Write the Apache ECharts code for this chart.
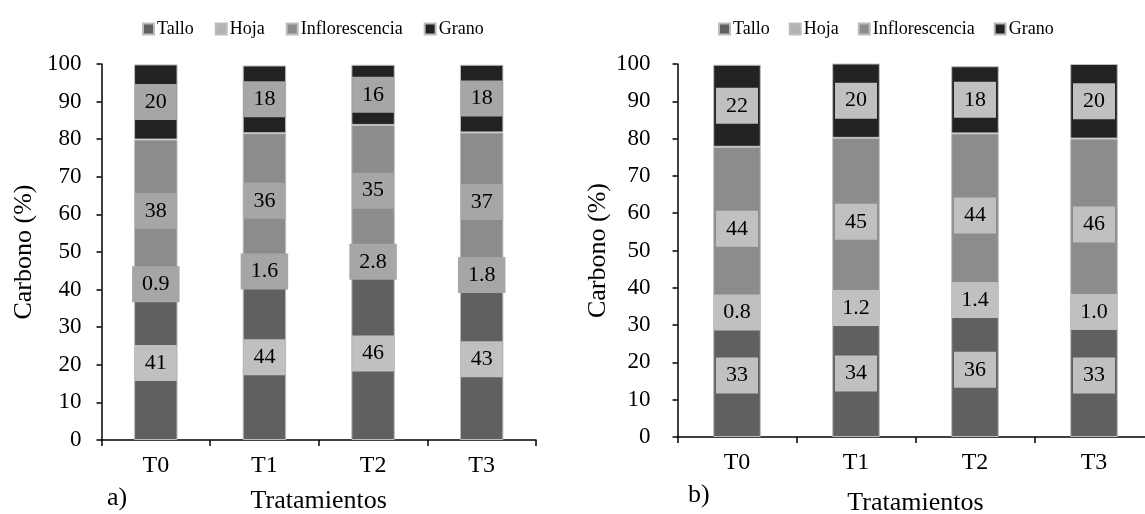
<!DOCTYPE html>
<html><head><meta charset="utf-8">
<script src="https://cdn.jsdelivr.net/npm/echarts@6/dist/echarts.min.js"></script>
<style>html,body{margin:0;padding:0;background:#fff}#c{width:1145px;height:514px}</style>
</head><body><div id="c"></div><script>
const categories = ['T0', 'T1', 'T2', 'T3'];
const seriesNames = ['Tallo', 'Hoja', 'Inflorescencia', 'Grano'];
// Panel a)
const talloA = [41, 44, 46, 43];
const hojaA = [0.9, 1.6, 2.8, 1.8];
const inflA = [38, 36, 35, 37];
const granoA = [20, 18, 16, 18];
// Panel b)
const talloB = [33, 34, 36, 33];
const hojaB = [0.8, 1.2, 1.4, 1.0];
const inflB = [44, 45, 44, 46];
const granoB = [22, 20, 18, 20];
const yMin = 0, yMax = 100, yInterval = 10;
const xTitle = 'Tratamientos';
const yTitle = 'Carbono (%)';

const FONT = '"Liberation Serif", "DejaVu Serif", serif';
const colors = ['#606060', '#b3b3b3', '#8c8c8c', '#222222'];
const decimals = [0, 1, 0, 0];
const labelBgA = ['#c0c0c0', '#a6a6a6', '#a6a6a6', '#a6a6a6'];
const labelBgB = ['#c0c0c0', '#c0c0c0', '#c0c0c0', '#c0c0c0'];

function makeSeries(idx, arrays, bgs, stackName) {
  return arrays.map((arr, i) => ({
    name: seriesNames[i],
    type: 'bar',
    xAxisIndex: idx, yAxisIndex: idx,
    stack: stackName,
    barWidth: '40%',
    data: arr,
    itemStyle: { color: colors[i], borderColor: '#bdbdbd', borderWidth: 1 },
    label: {
      show: true, position: 'inside',
      formatter: p => Number(p.value).toFixed(decimals[i]),
      color: '#000', fontFamily: FONT, fontSize: 22, lineHeight: 22,
      backgroundColor: bgs[i], padding: [7, 10]
    },
    emphasis: { disabled: true }
  }));
}

function xAx(idx, gap) {
  return {
    type: 'category', gridIndex: idx, data: categories,
    axisLine: { lineStyle: { color: '#000', width: 1.5 } },
    axisTick: { show: true, length: 6, lineStyle: { color: '#000', width: 1.5 } },
    axisLabel: { color: '#000', fontFamily: FONT, fontSize: 24, margin: 14 },
    name: xTitle, nameLocation: 'middle', nameGap: gap,
    nameTextStyle: { color: '#000', fontFamily: FONT, fontSize: 26 }
  };
}
function yAx(idx, margin, gap) {
  return {
    type: 'value', gridIndex: idx, min: yMin, max: yMax, interval: yInterval,
    axisLine: { show: true, lineStyle: { color: '#000', width: 1.5 } },
    axisTick: { show: true, length: 5, lineStyle: { color: '#000', width: 1.5 } },
    splitLine: { show: false },
    axisLabel: { color: '#000', fontFamily: FONT, fontSize: 23, margin: margin },
    name: yTitle, nameLocation: 'middle', nameGap: gap,
    nameTextStyle: { color: '#000', fontFamily: FONT, fontSize: 26 }
  };
}
function leg(left, gap) {
  return {
    data: seriesNames, left: left, top: 15, icon: 'rect',
    itemWidth: 11, itemHeight: 11, itemGap: gap,
    textStyle: { color: '#000', fontFamily: FONT, fontSize: 18, padding: [0, 0, 0, -2] },
    selectedMode: false
  };
}

const chart = echarts.init(document.getElementById('c'));
chart.setOption({
  animation: false,
  backgroundColor: '#fff',
  legend: [leg(137, 21), leg(713, 19)],
  grid: [
    { left: 101.5, top: 64, width: 434.5, height: 376, containLabel: false, outerBoundsMode: 'none' },
    { left: 677.5, top: 64, width: 476, height: 373, containLabel: false, outerBoundsMode: 'none' }
  ],
  xAxis: [xAx(0, 48), xAx(1, 53)],
  yAxis: [yAx(0, 20, 64), yAx(1, 27, 66)],
  series: makeSeries(0, [talloA, hojaA, inflA, granoA], labelBgA, 'a')
    .concat(makeSeries(1, [talloB, hojaB, inflB, granoB], labelBgB, 'b')),
  graphic: [
    { type: 'text', left: 107, top: 485, style: { text: 'a)', font: '26px ' + FONT, fill: '#000' } },
    { type: 'text', left: 688, top: 482, style: { text: 'b)', font: '26px ' + FONT, fill: '#000' } }
  ]
});
</script></body></html>
